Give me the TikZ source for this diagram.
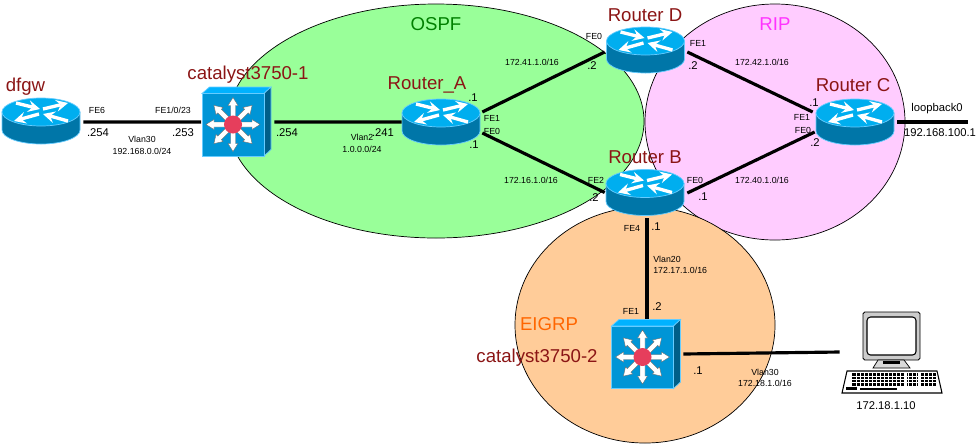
\documentclass[tikz,border=0pt]{standalone}
\usepackage{fontspec}
\setmainfont{Liberation Sans}
\usepackage{xcolor}
\usetikzlibrary{arrows}

\definecolor{ospfgreen}{HTML}{99FF99}
\definecolor{ripmagenta}{HTML}{FFCCFF}
\definecolor{eigrporange}{HTML}{FFCC99}
\definecolor{routertop}{HTML}{00AEEF}
\definecolor{routerside}{HTML}{0076A8}
\definecolor{routerrim}{HTML}{66CCFF}
\definecolor{switchface}{HTML}{0095D6}
\definecolor{switchtop}{HTML}{00B2FF}
\definecolor{switchside}{HTML}{005F88}
\definecolor{switchdot}{HTML}{E63E5C}
\definecolor{namered}{HTML}{8B1515}

\tikzset{
    routerbox/.style={minimum width=1.56cm,minimum height=0.92cm,inner sep=0pt},
    switchbox/.style={minimum width=1.4cm,minimum height=1.36cm,inner sep=0pt},
    pcbox/.style={minimum width=2cm,minimum height=1.64cm,inner sep=0pt},
    link/.style={line width=1.8pt},
    area/.style={draw=black,line width=0.4pt},
    devname/.style={font=\fontsize{10.6pt}{12pt}\selectfont,text=namered,inner sep=0pt},
    areaname/.style={font=\fontsize{10.6pt}{12pt}\selectfont,inner sep=0pt},
    ifname/.style={font=\fontsize{5pt}{6pt}\selectfont,inner sep=0pt},
    hostnum/.style={font=\fontsize{6.4pt}{7pt}\selectfont,inner sep=0pt},
    routerarrow/.style={white,line width=1.9pt,-stealth},
    routericon/.pic={
        \draw[routerrim,fill=routerside,line width=0.4pt] (-39,-9) -- (-39,9)
            arc[start angle=180,end angle=0,x radius=39,y radius=14] -- (39,-9) -- cycle;
        \draw[routerrim,fill=routertop,line width=0.4pt] (0,-9) ellipse [x radius=39,y radius=14];
        \draw[routerarrow] (-25,-18) -- (-1,-12);
        \draw[routerarrow] (2,-12) -- (27,-18);
        \draw[routerarrow] (-2,-7) -- (-27,0);
        \draw[routerarrow] (27,0) -- (2,-7);
    },
    switchicon/.pic={
        \draw[routerrim,fill=switchtop,line width=0.4pt] (-34.5,-28) -- (-27,-34.5) -- (34.5,-34.5) -- (27.5,-28) -- cycle;
        \draw[routerrim,fill=switchside,line width=0.4pt] (27.5,-28) -- (34.5,-34.5) -- (34.5,28) -- (27.5,34.5) -- cycle;
        \draw[routerrim,fill=switchface,line width=0.4pt] (-34.5,-28) rectangle (27.5,34.5);
        \foreach \a in {0,45,...,315} {
            \draw[black!60,fill=white,line width=0.2pt,shift={(-3.5,3)},rotate=\a]
                (0,-2.5) -- (19,-2.5) -- (19,-5) -- (27,0) -- (19,5) -- (19,2.5) -- (0,2.5) -- cycle;
        }
        \fill[switchdot] (-3.5,3) circle [radius=9];
    },
    pcicon/.pic={
        \draw[fill=black!20,line width=0.5pt,rounded corners=1pt] (-29,-40) rectangle (28,8);
        \draw[fill=white,line width=0.6pt,rounded corners=2pt] (-25,-35) rectangle (24,3);
        \draw[fill=black!15,line width=0.4pt] (-14,8) -- (12,8) -- (18,16) -- (-19,16) -- cycle;
        \fill[black] (-9,9) rectangle (8,12);
        \draw[fill=white,line width=0.6pt] (-45,19) -- (45,19) -- (50,41) -- (-50,41) -- cycle;
        \fill[black] (-40,21) rectangle (13,34);
        \fill[black] (15,21) rectangle (26,34);
        \fill[black] (29,21) rectangle (45,34);
        \fill[black] (-32,36) rectangle (5,38);
        \fill[black] (-46,35) rectangle (-35,38);
        \foreach \kx in {-36,-32,...,44} {
            \draw[white,line width=0.25pt] (\kx,21) -- (\kx,34);
        }
        \foreach \ky in {24,27,30} {
            \draw[white,line width=0.25pt] (-40,\ky) -- (45,\ky);
        }
    }
}

\begin{document}
\begin{tikzpicture}[x=0.02cm,y=-0.02cm]

\useasboundingbox (0,0) rectangle (979,444);

\fill[white] (0,0) rectangle (979,444);
\draw[area,fill=ospfgreen] (436,121) ellipse [x radius=208,y radius=117];
\draw[area,fill=ripmagenta] (775,122) ellipse [x radius=130,y radius=118];
\draw[area,fill=eigrporange] (645,325) ellipse [x radius=130,y radius=118];

\node[areaname,text=green!50!black] (OSPF_name) at (436,24) {OSPF};
\node[areaname,text={rgb,255:red,255;green,51;blue,255}] (RIP_name) at (775,24) {RIP};
\node[areaname,text={rgb,255:red,255;green,102;blue,0}] (EIGRP_name) at (549,324) {EIGRP};

\foreach \name/\pos in {dfgw/{41,121},Router_A/{441,122},Router_D/{645.5,50},Router_B/{645,192.5},Router_C/{855,122}} {
    \node[routerbox] (\name) at (\pos) {};
    \pic at (\pos) {routericon};
}
\foreach \name/\pos in {catalyst_1/{236.5,121.5},catalyst_2/{646,354}} {
    \node[switchbox] (\name) at (\pos) {};
    \pic at (\pos) {switchicon};
}
\node[pcbox] (PC) at (892,352) {};
\pic at (892,352) {pcicon};
\coordinate (C_loop) at (968,122);

\path[link]
    ([shift={(3,1)}]dfgw.east) edge ([shift={(0,0.5)}]catalyst_1.west)
    ([shift={(2.5,0.5)}]catalyst_1.east) edge (Router_A.west)
    ([shift={(2,-10)}]Router_A.east) edge ([shift={(-1.5,2)}]Router_D.west)
    ([shift={(2,11)}]Router_A.east) edge ([shift={(-1,0)}]Router_B.west)
    ([shift={(2.5,2)}]Router_D.east) edge ([shift={(-3,-10)}]Router_C.west)
    ([shift={(3,0.5)}]Router_B.east) edge ([shift={(-1,10)}]Router_C.west)
    ([shift={(3,0)}]Router_C.east) edge (C_loop)
    ([shift={(2,2.5)}]Router_B.south) edge ([shift={(1,-1)}]catalyst_2.north)
    ([shift={(2,0)}]catalyst_2.east) edge ([shift={(-2,0)}]PC.west);

\node[devname] (dfgw_name) at (25.5,87) {dfgw};
\node[devname] (catalyst_1_name) at (248,75) {catalyst3750-1};
\node[devname] (Router_A_name) at (427,85) {Router\_A};
\node[devname] (Router_D_name) at (645,15) {Router D};
\node[devname] (Router_B_name) at (645,157) {Router B};
\node[devname] (Router_C_name) at (853,85) {Router C};
\node[devname] (catalyst_2_name) at (537,358) {catalyst3750-2};

\node[ifname] (dfgw_FE6) at (97,110) {FE6};
\node[ifname] (cat1_FE1) at (173,110) {FE1/0/23};
\node[ifname] (vlan30_a) at (142,139) {Vlan30};
\node[ifname] (net_192) at (142,151) {192.168.0.0/24};
\node[ifname] (vlan2) at (362,137) {Vlan2};
\node[ifname] (net_1) at (362,149) {1.0.0.0/24};
\node[ifname] (A_FE1) at (492,118) {FE1};
\node[ifname] (A_FE0) at (492,131) {FE0};
\node[ifname] (net_41) at (532,62) {172.41.1.0/16};
\node[ifname] (net_16) at (531,180) {172.16.1.0/16};
\node[ifname] (D_FE0) at (594,36) {FE0};
\node[ifname] (D_FE1) at (698,43) {FE1};
\node[ifname] (B_FE2) at (596,180) {FE2};
\node[ifname] (B_FE0) at (695,180) {FE0};
\node[ifname] (B_FE4) at (632,228) {FE4};
\node[ifname] (net_42) at (762,62) {172.42.1.0/16};
\node[ifname] (net_40) at (762,180) {172.40.1.0/16};
\node[ifname] (C_FE1) at (802,117) {FE1};
\node[ifname] (C_FE0) at (803,130) {FE0};
\node[ifname,anchor=west] (vlan20) at (653,259) {Vlan20};
\node[ifname,anchor=west] (net_17) at (653,270) {172.17.1.0/16};
\node[ifname] (cat2_FE1) at (631,311) {FE1};
\node[ifname] (vlan30_b) at (765,372) {Vlan30};
\node[ifname] (net_18) at (765,383) {172.18.1.0/16};

\node[hostnum] (dfgw_254) at (98,133) {.254};
\node[hostnum] (cat1_253) at (183,133) {.253};
\node[hostnum] (cat1_254) at (287,133) {.254};
\node[hostnum] (A_241) at (383,133) {.241};
\node[hostnum] (A_top) at (473,98) {.1};
\node[hostnum] (A_bottom) at (474,145) {.1};
\node[hostnum] (D_left) at (592,66) {.2};
\node[hostnum] (D_right) at (693,66) {.2};
\node[hostnum] (B_left) at (594,198) {.2};
\node[hostnum] (B_right) at (703,197) {.1};
\node[hostnum] (B_down) at (656,227) {.1};
\node[hostnum] (C_top) at (814,103) {.1};
\node[hostnum] (C_bottom) at (815,143) {.2};
\node[hostnum] (loopback) at (937,109) {loopback0};
\node[hostnum] (C_addr) at (940,133) {192.168.100.1};
\node[hostnum] (cat2_top) at (657,307) {.2};
\node[hostnum] (cat2_right) at (698,371) {.1};
\node[hostnum] (PC_addr) at (886,406) {172.18.1.10};

\end{tikzpicture}
\end{document}
